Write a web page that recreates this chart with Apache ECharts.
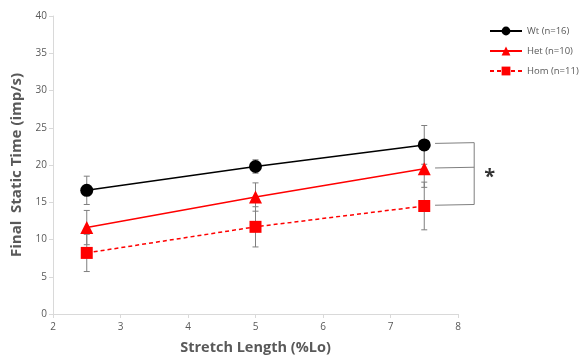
<!DOCTYPE html>
<html>
<head>
<meta charset="utf-8">
<script src="https://cdn.jsdelivr.net/npm/echarts@6/dist/echarts.min.js"></script>
<style>
html, body { margin: 0; padding: 0; background: #fff; }
#main { width: 579px; height: 360px; }
</style>
</head>
<body>
<div id="main"></div>
<script>
// stretch lengths (%Lo)
var stretch = [2.5, 5, 7.5];

var wtMean = [16.6, 19.8, 22.7];
var wtErr = [1.9, 0.9, 2.6];
var hetMean = [11.6, 15.7, 19.5];
var hetErr = [2.3, 1.9, 2.5];
var homMean = [8.2, 11.7, 14.5];
var homErr = [2.5, 2.7, 3.2];

// significance bracket at the 7.5 %Lo end
var bracketX = [7.66, 8.24];
var bracketY = [22.9, 19.6, 14.6];

var grey = '#595959';

function pts(mean) {
    return stretch.map(function (x, i) { return [x, mean[i]]; });
}
function errs(mean, err) {
    return stretch.map(function (x, i) { return [x, mean[i] - err[i], mean[i] + err[i]]; });
}

function renderErr(params, api) {
    var x = api.value(0);
    var lo = api.coord([x, api.value(1)]);
    var hi = api.coord([x, api.value(2)]);
    var w = 3;
    var style = { stroke: '#7f7f7f', lineWidth: 1 };
    return {
        type: 'group',
        children: [
            { type: 'line', shape: { x1: hi[0], y1: hi[1], x2: lo[0], y2: lo[1] }, style: style },
            { type: 'line', shape: { x1: hi[0] - w, y1: hi[1], x2: hi[0] + w, y2: hi[1] }, style: style },
            { type: 'line', shape: { x1: lo[0] - w, y1: lo[1], x2: lo[0] + w, y2: lo[1] }, style: style }
        ]
    };
}

function errSeries(mean, err) {
    return {
        type: 'custom',
        renderItem: renderErr,
        data: errs(mean, err),
        z: 1,
        silent: true
    };
}

// bracket drawn from data coordinates (extends past the x axis end)
function renderBracket(params, api) {
    var style = { stroke: '#7f7f7f', lineWidth: 1 };
    var children = [];
    var right = bracketX[1];
    bracketY.forEach(function (y) {
        var a = api.coord([bracketX[0], y]);
        var b = api.coord([right, y + 0.1]);
        children.push({ type: 'line', shape: { x1: a[0], y1: a[1], x2: b[0], y2: b[1] }, style: style });
    });
    var t = api.coord([right, bracketY[0] + 0.1]);
    var u = api.coord([right, bracketY[2] + 0.1]);
    children.push({ type: 'line', shape: { x1: t[0], y1: t[1], x2: u[0], y2: u[1] }, style: style });
    return { type: 'group', children: children };
}

var myChart = echarts.init(document.getElementById('main'));
myChart.setOption({
    animation: false,
    textStyle: { fontFamily: 'Open Sans' },
    grid: { left: 53, right: 121, top: 16, bottom: 45 },
    legend: {
        left: 484,
        top: 21,
        orient: 'vertical',
        itemGap: 10,
        itemWidth: 32,
        itemHeight: 11,
        textStyle: { color: grey, fontSize: 9.5, fontFamily: 'Open Sans' },
        data: ['Wt (n=16)', 'Het (n=10)', 'Hom (n=11)']
    },
    xAxis: {
        type: 'value',
        min: 2, max: 8, interval: 1,
        name: 'Stretch Length (%Lo)',
        nameLocation: 'middle',
        nameGap: 26,
        nameTextStyle: { color: grey, fontSize: 14.5, fontWeight: 'bold' },
        axisLine: { lineStyle: { color: '#d9d9d9', width: 1 } },
        axisTick: { show: true, lineStyle: { color: '#d9d9d9' }, length: 4 },
        axisLabel: { color: grey, fontSize: 10, margin: 8 },
        splitLine: { show: false }
    },
    yAxis: {
        type: 'value',
        min: 0, max: 40, interval: 5,
        name: 'Final  Static Time (imp/s)',
        nameLocation: 'middle',
        nameGap: 28,
        nameTextStyle: { color: grey, fontSize: 15, fontWeight: 'bold' },
        axisLine: { show: true, lineStyle: { color: '#d9d9d9', width: 1 } },
        axisTick: { show: true, lineStyle: { color: '#d9d9d9' }, length: 4 },
        axisLabel: { color: grey, fontSize: 10, margin: 6 },
        splitLine: { show: false }
    },
    series: [
        errSeries(wtMean, wtErr),
        errSeries(hetMean, hetErr),
        errSeries(homMean, homErr),
        {
            name: 'Wt (n=16)',
            type: 'line',
            data: pts(wtMean),
            symbol: 'circle',
            symbolSize: 13,
            itemStyle: { color: '#000' },
            lineStyle: { color: '#000', width: 1.5 },
            z: 3
        },
        {
            name: 'Het (n=10)',
            type: 'line',
            data: pts(hetMean),
            symbol: 'triangle',
            symbolSize: 13,
            itemStyle: { color: '#ff0000' },
            lineStyle: { color: '#ff0000', width: 1.5 },
            z: 3
        },
        {
            name: 'Hom (n=11)',
            type: 'line',
            data: pts(homMean),
            symbol: 'rect',
            symbolSize: 12,
            itemStyle: { color: '#ff0000' },
            lineStyle: { color: '#ff0000', width: 1.5, type: [4, 3] },
            z: 3
        },
        {
            type: 'custom',
            silent: true,
            clip: false,
            renderItem: renderBracket,
            data: [[bracketX[0], bracketY[0]]],
            z: 2
        },
        {
            type: 'scatter',
            clip: false,
            silent: true,
            symbolSize: 0,
            data: [[8.47, 18.4]],
            label: {
                show: true,
                formatter: '*',
                position: 'inside',
                color: '#000',
                fontSize: 20,
                fontWeight: 'bold'
            }
        }
    ]
});
</script>
</body>
</html>
